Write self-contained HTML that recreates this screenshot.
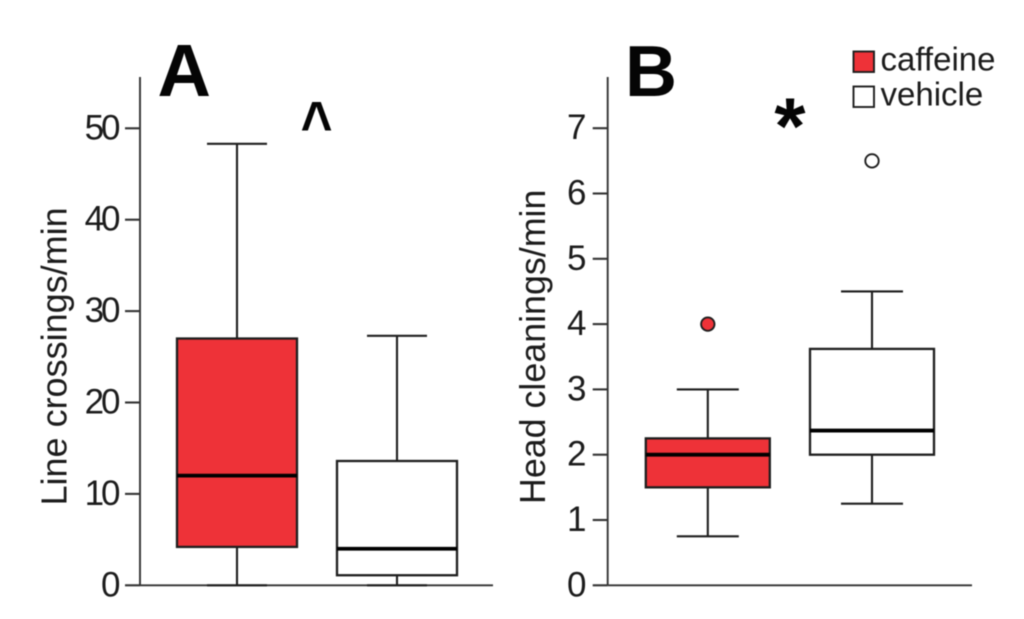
<!DOCTYPE html>
<html lang="en">
<head>
<meta charset="utf-8">
<title>Caffeine box plots</title>
<style>
  html, body { margin: 0; padding: 0; background: #fff; }
  #chart { display: block; width: 1024px; height: 619px; filter: blur(0.45px); }
  text { font-family: "Liberation Sans", Arial, sans-serif; fill: #1c1c1c; }
</style>
</head>
<body>
<svg id="chart" xmlns="http://www.w3.org/2000/svg" width="1024" height="619" viewBox="0 0 1024 619">
  <rect x="0" y="0" width="1024" height="619" fill="#ffffff"/>
</svg>
<script>
// Panel data: [whiskerLow, q1, median, q3, whiskerHigh]
const seriesNames = ['caffeine', 'vehicle'];
const panelATicks = [0, 10, 20, 30, 40, 50];
const panelBTicks = [0, 1, 2, 3, 4, 5, 6, 7];
const panelACaffeine = [0, 4.2, 12.0, 27.0, 48.3];
const panelAVehicle = [0, 1.1, 4.0, 13.6, 27.3];
const panelBCaffeine = [0.75, 1.5, 2.0, 2.25, 3.0];
const panelBVehicle = [1.25, 2.0, 2.37, 3.62, 4.5];
const panelBCaffeineOutliers = [4.0];
const panelBVehicleOutliers = [6.5];

const svg = document.getElementById('chart');
const NS = 'http://www.w3.org/2000/svg';
const RED = '#ee3238';
const INK = '#1e1e1e';

function mk(tag, attrs, text) {
  const el = document.createElementNS(NS, tag);
  for (const k in attrs) el.setAttribute(k, attrs[k]);
  if (text !== undefined) el.textContent = text;
  svg.appendChild(el);
  return el;
}

const baseY = 585.3;
function yA(v) { return baseY - v * 9.14; }
function yB(v) { return baseY - v * 65.3; }

function drawAxes(prefix, axisX, endX, labelX, spacing, ticks, y) {
  let el = mk('line', { x1: axisX, x2: axisX, y1: 77, y2: baseY, stroke: '#333333', 'stroke-width': 1.9 });
  
  
  el = mk('line', { x1: axisX, x2: endX, y1: baseY, y2: baseY, stroke: '#333333', 'stroke-width': 1.9 });
  
  
  ticks.forEach(function (t) {
    const tick = mk('line', { x1: axisX - 15, x2: axisX, y1: y(t), y2: y(t), stroke: '#333333', 'stroke-width': 2.1 });
    
    
    const label = mk('text', { x: labelX, y: y(t) + 11, 'text-anchor': 'end', 'font-size': 35, 'letter-spacing': spacing }, String(t));
    
    
  });
}

function drawBox(prefix, cx, halfWidth, capHalf, stats, fill, y) {
  const low = y(stats[0]), q1 = y(stats[1]), med = y(stats[2]), q3 = y(stats[3]), high = y(stats[4]);
  let el = mk('line', { x1: cx, x2: cx, y1: high, y2: q3, stroke: INK, 'stroke-width': 2.1 });
  
  
  el = mk('line', { x1: cx, x2: cx, y1: q1, y2: low, stroke: INK, 'stroke-width': 2.1 });
  
  
  el = mk('line', { x1: cx - capHalf, x2: cx + capHalf, y1: high, y2: high, stroke: INK, 'stroke-width': 2.1 });
  
  
  el = mk('line', { x1: cx - capHalf, x2: cx + capHalf, y1: low, y2: low, stroke: INK, 'stroke-width': 2.1 });
  
  
  el = mk('rect', { x: cx - halfWidth, y: q3, width: halfWidth * 2, height: q1 - q3, fill: fill, stroke: INK, 'stroke-width': 2.3 });
  
  
  el = mk('line', { x1: cx - halfWidth, x2: cx + halfWidth, y1: med, y2: med, stroke: '#000000', 'stroke-width': 3.8 });
  
  
}

function drawOutliers(prefix, cx, values, fill, y) {
  values.forEach(function (v) {
    const dot = mk('circle', { cx: cx, cy: y(v), r: 6.7, fill: fill, stroke: INK, 'stroke-width': 1.9 });
    
    
  });
}

drawAxes('panel-a', 140, 493, 117.5, -3, panelATicks, yA);
drawAxes('panel-b', 607.7, 972, 586.5, 0, panelBTicks, yB);

drawBox('panel-a-' + seriesNames[0], 237, 60, 30, panelACaffeine, RED, yA);
drawBox('panel-a-' + seriesNames[1], 397, 60, 30, panelAVehicle, '#ffffff', yA);
drawBox('panel-b-' + seriesNames[0], 707.8, 62, 31, panelBCaffeine, RED, yB);
drawBox('panel-b-' + seriesNames[1], 872, 62, 31, panelBVehicle, '#ffffff', yB);
drawOutliers('panel-b-' + seriesNames[0], 707.8, panelBCaffeineOutliers, RED, yB);
drawOutliers('panel-b-' + seriesNames[1], 872, panelBVehicleOutliers, '#ffffff', yB);

let t;
t = mk('text', { transform: 'translate(66.5,505.5) rotate(-90)', 'font-size': 36 }, 'Line crossings/min');


t = mk('text', { transform: 'translate(545,504) rotate(-90)', 'font-size': 35.8 }, 'Head cleanings/min');



t = mk('text', { x: 157.5, y: 96, 'font-size': 74, 'font-weight': 'bold', style: 'fill:#050505' }, 'A');


t = mk('text', { x: 625, y: 96, 'font-size': 72, 'font-weight': 'bold', style: 'fill:#050505' }, 'B');



t = mk('text', { transform: 'translate(316.5,147) scale(0.88,1.04)', 'text-anchor': 'middle', 'font-size': 62, 'font-weight': 'bold', style: 'fill:#050505' }, '^');


t = mk('text', { x: 790, y: 153.5, 'text-anchor': 'middle', 'font-size': 80, 'font-weight': 'bold', style: 'fill:#050505' }, '*');



let s;
s = mk('rect', { x: 853.5, y: 51.5, width: 20.5, height: 20.5, fill: RED, stroke: INK, 'stroke-width': 1.9 });


s = mk('rect', { x: 853.5, y: 86.5, width: 20.5, height: 20.5, fill: '#ffffff', stroke: INK, 'stroke-width': 1.9 });


t = mk('text', { x: 880.5, y: 70.5, 'font-size': 33 }, seriesNames[0]);


t = mk('text', { x: 880.5, y: 105.5, 'font-size': 33 }, seriesNames[1]);


</script>
</body>
</html>
